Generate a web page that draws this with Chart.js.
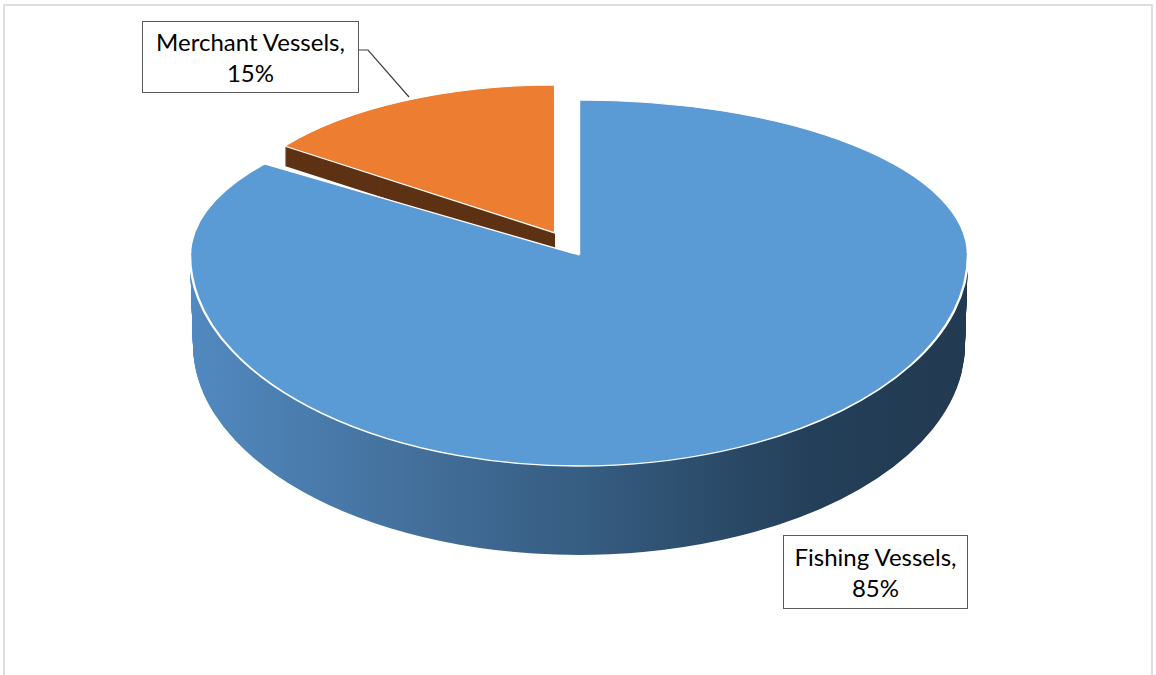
<!DOCTYPE html>
<html>
<head>
<meta charset="utf-8">
<script src="https://cdn.jsdelivr.net/npm/chart.js@4/dist/chart.umd.min.js"></script>
<style>
  html, body { margin: 0; padding: 0; background: #fff; }
  #wrap { position: relative; width: 1156px; height: 675px; overflow: hidden; }
  #c { position: absolute; left: 0; top: 0; }
  #frame { position: absolute; left: 3px; top: 4px; width: 1150px; height: 700px;
           border: 2px solid #dedede; box-sizing: border-box; pointer-events: none; }
  svg { position: absolute; left: 0; top: 0; }
  .lbl { position: absolute; box-sizing: border-box; border: 1.5px solid #5a5a5a; background: #fff;
         font-family: Lato, "Liberation Sans", sans-serif; font-size: 24px; line-height: 31px;
         color: #000; text-align: center; display: flex; flex-direction: column; justify-content: center; }
</style>
</head>
<body>
<div id="wrap">
  <canvas id="c" width="1156" height="675"></canvas>
  <div id="frame"></div>
  <svg width="1156" height="675"><polyline points="358,50 368,50 409,97" fill="none" stroke="#404040" stroke-width="1.2"/></svg>
  <div class="lbl" id="lbl1" style="left:142px;top:21px;width:217px;height:72px;"></div>
  <div class="lbl" id="lbl0" style="left:783px;top:535px;width:185px;height:74px;"></div>
</div>
<script>
// data
const categories = ['Fishing Vessels', 'Merchant Vessels'];
const shares = [85, 15];

// styling
const faceColors = ['#5b9bd5', '#ed7d31'];
const brownSide = '#5e3214';

// geometry of the tilted pie (screen pixels)
const TOP = { cx: 579, cy: 255, rx: 389, ryBack: 155, ryFront: 211 };
const BOT = { cy: 345, rx: 386, ryFront: 210 };
const FISH_DEPTH = 90;
const MERCH = { cx: 555, cy: 233, rx: 334, ry: 148, depth: 20 };

document.getElementById('lbl0').innerHTML = categories[0] + ',<br>' + shares[0] + '%';
document.getElementById('lbl1').innerHTML = categories[1] + ',<br>' + shares[1] + '%';

function paintArc(ctx, arc, over) {
    const saved = arc.options;
    arc.options = Object.assign({}, saved, over);
    arc.draw(ctx);
    arc.options = saved;
}

// draw one arc element squashed into a half-ellipse pair around (cx, cy)
function drawFlat(chart, arc, cx, cy, rx, ryBack, ryFront, overFn) {
    const ctx = chart.ctx;
    const r = arc.outerRadius;
    const halves = [[0, cy + 0.5, ryBack], [cy - 0.5, chart.height, ryFront]];
    halves.forEach(([y0, y1, ry]) => {
        ctx.save();
        ctx.beginPath();
        ctx.rect(0, y0, chart.width, y1 - y0);
        ctx.clip();
        ctx.translate(cx, cy);
        ctx.scale(rx / r, ry / r);
        ctx.translate(-arc.x, -arc.y);
        paintArc(ctx, arc, overFn ? overFn(ctx, arc, cx, rx) : {});
        ctx.restore();
    });
}

function sideGradient(ctx, arc, cx, rx) {
    const r = arc.outerRadius;
    const ux = X => arc.x + (X - cx) * r / rx;
    const g = ctx.createLinearGradient(ux(192), 0, ux(968), 0);
    g.addColorStop(0, '#5189c0');
    g.addColorStop(0.27, '#44719d');
    g.addColorStop(0.5, '#365d82');
    g.addColorStop(0.8, '#243f59');
    g.addColorStop(1, '#223a51');
    return { backgroundColor: g, borderWidth: 0 };
}

const pie3d = {
    id: 'pie3d',
    beforeDatasetsDraw(chart) {
        const arcs = chart.getDatasetMeta(0).data;
        const fishing = arcs[0], merchant = arcs[1];

        for (let d = MERCH.depth; d >= 1; d--) {
            drawFlat(chart, merchant, MERCH.cx, MERCH.cy + d, MERCH.rx, MERCH.ry, MERCH.ry,
                () => ({ backgroundColor: brownSide, borderWidth: 0 }));
        }
        drawFlat(chart, merchant, MERCH.cx, MERCH.cy, MERCH.rx, MERCH.ry, MERCH.ry, null);

        for (let d = FISH_DEPTH; d >= 1; d--) {
            const t = d / FISH_DEPTH;
            const cy = TOP.cy + (BOT.cy - TOP.cy) * t;
            const rx = TOP.rx + (BOT.rx - TOP.rx) * t;
            const ryF = TOP.ryFront + (BOT.ryFront - TOP.ryFront) * t;
            drawFlat(chart, fishing, TOP.cx, cy, rx, TOP.ryBack, ryF, sideGradient);
        }
        drawFlat(chart, fishing, TOP.cx, TOP.cy, TOP.rx, TOP.ryBack, TOP.ryFront, null);
        return false;
    }
};

new Chart(document.getElementById('c'), {
    type: 'pie',
    data: {
        labels: categories,
        datasets: [{
            data: shares,
            backgroundColor: faceColors,
            borderColor: '#ffffff',
            borderWidth: 2,
            offset: 0
        }]
    },
    options: {
        responsive: false,
        animation: false,
        layout: { padding: 20 },
        plugins: { legend: { display: false }, tooltip: { enabled: false } }
    },
    plugins: [pie3d]
});
</script>
</body>
</html>
